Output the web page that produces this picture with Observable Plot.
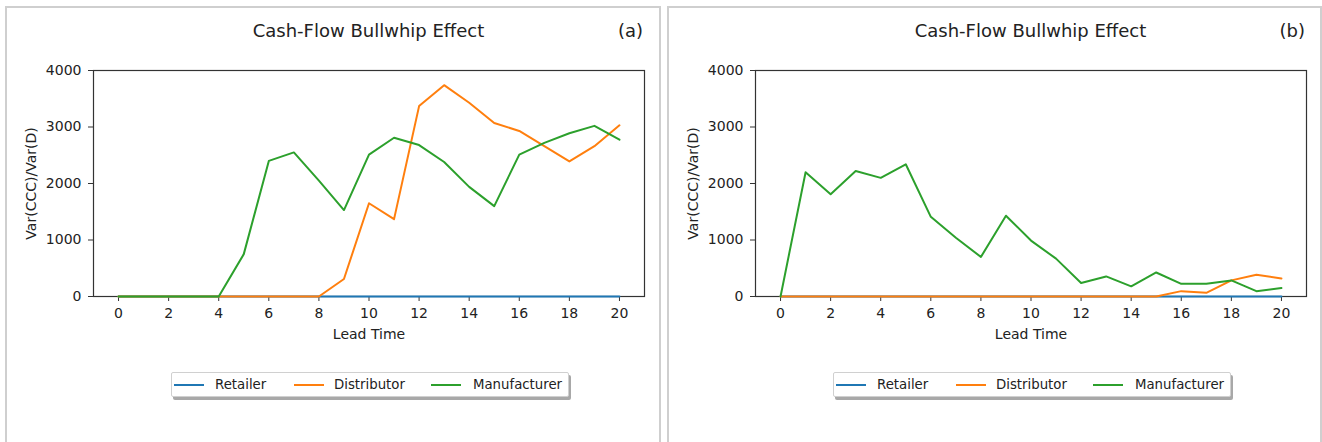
<!DOCTYPE html>
<html>
<head>
<meta charset="utf-8">
<script src="https://cdn.jsdelivr.net/npm/d3@7"></script>
<script src="https://cdn.jsdelivr.net/npm/@observablehq/plot@0.6"></script>
<style>
  html, body { margin: 0; padding: 0; background: #fff; }
  body { width: 1322px; height: 442px; position: relative; overflow: hidden; font-family: "DejaVu Sans", sans-serif; color: #222; }
  .panel { position: absolute; top: 6px; height: 460px; border: 2px solid #cfcfcf; box-sizing: border-box; }
  .abs { position: absolute; white-space: nowrap; }
  .title { font-size: 18px; line-height: 18px; text-align: center; }
  .tag { font-size: 18px; line-height: 18px; text-align: right; }
  .legend { position: absolute; height: 25px; border: 1px solid #d0d0d0; border-radius: 2px; background: #fff; box-shadow: 2px 3px 0 #a8a8a8; box-sizing: border-box; }
  .legend .ln { position: absolute; top: 11px; height: 2px; width: 30px; }
  .legend .lt { position: absolute; top: 3px; font-size: 13.3px; line-height: 17px; }
</style>
</head>
<body>
<script>
// ---- data ----
const leadTime = [0,1,2,3,4,5,6,7,8,9,10,11,12,13,14,15,16,17,18,19,20];
const seriesNames = ["Retailer", "Distributor", "Manufacturer"];
const seriesColors = ["#1f77b4", "#ff7f0e", "#2ca02c"];
const xTicks = [0,2,4,6,8,10,12,14,16,18,20];
const yTicks = [0,1000,2000,3000,4000];
const chartTitle = "Cash-Flow Bullwhip Effect";
const xLabel = "Lead Time";
const yLabel = "Var(CCC)/Var(D)";
const panelTags = ["(a)", "(b)"];

// panel (a)
const retailerA     = [0,0,0,0,0,0,0,0,0,0,0,0,0,0,0,0,0,0,0,0,0];
const distributorA  = [0,0,0,0,0,0,0,0,0,310,1650,1370,3370,3740,3430,3070,2930,2660,2390,2660,3030];
const manufacturerA = [0,0,0,0,0,750,2400,2550,2050,1530,2510,2810,2680,2380,1940,1600,2510,2720,2890,3020,2775];
// panel (b)
const retailerB     = [0,0,0,0,0,0,0,0,0,0,0,0,0,0,0,0,0,0,0,0,0];
const distributorB  = [0,0,0,0,0,0,0,0,0,0,0,0,0,0,0,0,95,65,285,385,320];
const manufacturerB = [0,2200,1810,2220,2100,2340,1410,1040,700,1430,990,670,240,355,180,425,225,225,285,95,150];

const panels = [
  {tag: panelTags[0], series: [retailerA, distributorA, manufacturerA], dx: 0, boxLeft: 5, boxWidth: 656},
  {tag: panelTags[1], series: [retailerB, distributorB, manufacturerB], dx: 662, boxLeft: 667, boxWidth: 655}
];

function el(tag, cls, text, css) {
  const e = document.createElement(tag);
  if (cls) e.className = cls;
  if (text != null) e.textContent = text;
  Object.assign(e.style, css || {});
  document.body.appendChild(e);
  return e;
}

for (const p of panels) {
  const dx = p.dx;
  el("div", "panel", null, {left: p.boxLeft + "px", width: p.boxWidth + "px"});

  // titles (HTML, above the svg)
  el("div", "abs title", chartTitle, {left: (93 + dx) + "px", width: "551px", top: "22px"});
  el("div", "abs tag", p.tag, {left: (93 + dx) + "px", width: "550px", top: "22px"});

  const rows = [];
  p.series.forEach((vals, si) => {
    vals.forEach((v, i) => rows.push({series: seriesNames[si], x: leadTime[i], y: v}));
  });

  const svg = Plot.plot({
    width: 650,
    height: 300,
    marginLeft: 87,
    marginRight: 12,
    marginTop: 14,
    marginBottom: 60,
    x: {domain: [-1, 21]},
    y: {domain: [0, 4000]},
    color: {domain: seriesNames, range: seriesColors},
    style: {fontFamily: "DejaVu Sans, sans-serif", fontSize: "14px", color: "#222", background: "transparent", overflow: "visible"},
    marks: [
      Plot.frame({stroke: "#333", strokeWidth: 1.2}),
      Plot.axisX({ticks: xTicks, tickSize: 5, tickPadding: 7, label: null, stroke: "#333", tickFormat: d => String(d)}),
      Plot.axisY({ticks: yTicks, tickSize: 5, tickPadding: 7, label: null, stroke: "#333", tickFormat: d3.format("d")}),
      ...seriesNames.map(name =>
        Plot.lineY(rows.filter(r => r.series === name), {x: "x", y: "y", stroke: "series", strokeWidth: 2, strokeLinejoin: "round"})
      ),
      Plot.text([xLabel], {frameAnchor: "bottom", dy: 38, text: d => d, fontSize: 14, fill: "#222", textAnchor: "middle", lineAnchor: "middle"}),
      Plot.text([yLabel], {frameAnchor: "left", dx: -62, rotate: -90, text: d => d, fontSize: 14, fill: "#222", textAnchor: "middle", lineAnchor: "middle"})
    ]
  });
  svg.style.position = "absolute";
  svg.style.left = (6 + dx) + "px";
  svg.style.top = "56px";
  document.body.appendChild(svg);

  // legend (HTML, below the svg)
  const lg = el("div", "legend", null, {left: (171 + dx) + "px", top: "372px", width: "398px"});
  const lineX = [2, 122, 259];
  const textX = [43, 162, 301];
  seriesNames.forEach((name, i) => {
    const l = document.createElement("div");
    l.className = "ln";
    l.style.left = lineX[i] + "px";
    l.style.background = seriesColors[i];
    lg.appendChild(l);
    const t = document.createElement("div");
    t.className = "lt";
    t.style.left = textX[i] + "px";
    t.textContent = name;
    lg.appendChild(t);
  });
}
</script>
</body>
</html>
